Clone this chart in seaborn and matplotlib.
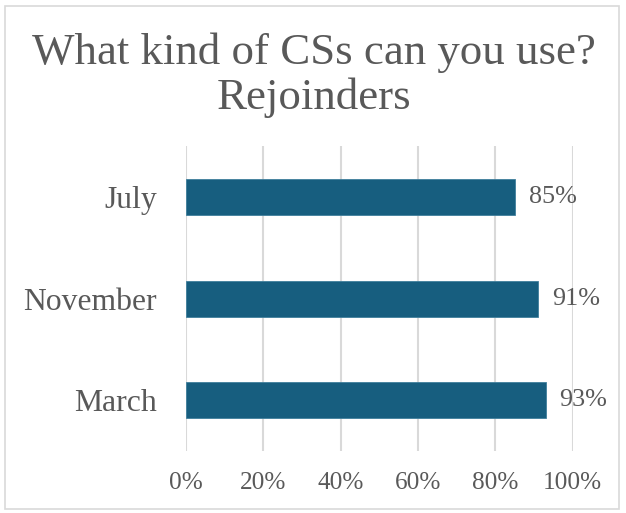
import matplotlib
matplotlib.use("Agg")
import matplotlib.pyplot as plt
from matplotlib.patches import Rectangle
from matplotlib.ticker import FuncFormatter
import seaborn as sns
import pandas as pd

# Survey results: share of students using rejoinders
months = ["July", "November", "March"]
shares = [0.85, 0.91, 0.93]
value_labels = ["85%", "91%", "93%"]
x_ticks = [0.0, 0.2, 0.4, 0.6, 0.8, 1.0]

df = pd.DataFrame({"month": months, "share": shares})

sns.set_theme(style="white")
plt.rcParams["font.family"] = ["Liberation Serif", "DejaVu Serif"]

text_color = "#595959"
bar_color = "#175e7f"
grid_color = "#d9d9d9"

fig = plt.figure(figsize=(6.26, 5.13), dpi=100)
ax = fig.add_axes([0.297, 0.121, 0.618, 0.594])

sns.barplot(data=df, x="share", y="month", order=months, orient="h",
            color=bar_color, width=0.355, edgecolor="#3f7f9c", linewidth=0.6,
            saturation=1, ax=ax)

ax.set_xlim(0, 1.0)
ax.set_ylim(2.5, -0.5)
ax.set_xticks(x_ticks)
ax.xaxis.set_major_formatter(FuncFormatter(lambda v, _: f"{round(v * 100)}%"))
ax.grid(axis="x", color=grid_color, linewidth=1.5)
ax.set_axisbelow(True)
for s in ax.spines.values():
    s.set_visible(False)
ax.set_xlabel("")
ax.set_ylabel("")
ax.tick_params(axis="x", labelsize=18.2, colors=text_color, length=0, pad=15)
ax.tick_params(axis="y", labelsize=22.8, colors=text_color, length=0, pad=21)

for i, (v, lbl) in enumerate(zip(shares, value_labels)):
    ax.annotate(lbl, xy=(v, i), xytext=(10, 0), textcoords="offset points",
                ha="left", va="center", fontsize=18.8, color=text_color)

fig.text(0.501, 0.897, "What kind of CSs can you use?", ha="center", va="center",
         fontsize=32.3, color=text_color)
fig.text(0.501, 0.809, "Rejoinders", ha="center", va="center",
         fontsize=32.3, color=text_color)

# light frame around the chart area
fig.patches.append(Rectangle((5 / 626, 4 / 513), 614 / 626, 503 / 513,
                             transform=fig.transFigure, fill=False,
                             edgecolor="#d9d9d9", linewidth=1.2))

fig.savefig("out.png", dpi=100, facecolor="white")
